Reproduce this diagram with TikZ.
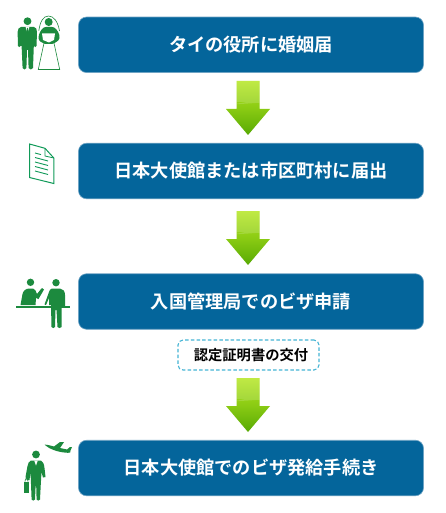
\documentclass[tikz,border=0pt]{standalone}
\usepackage{fontspec}
\setmainfont{Noto Sans CJK JP}[BoldFont={Noto Sans CJK JP Bold}]
\usetikzlibrary{calc}
\definecolor{boxblue}{HTML}{04659B}
\definecolor{boxedge}{HTML}{6FA4C4}
\definecolor{icongreen}{HTML}{1C8A3E}
\definecolor{docgreen}{HTML}{109A58}
\definecolor{dashblue}{HTML}{45B4D4}
\definecolor{arrowtop}{HTML}{B4E620}
\definecolor{arrowbot}{HTML}{58AA04}
\tikzset{
  x=1pt,y=-1pt,
  stepbox/.style={draw=boxedge,line width=0.6pt,fill=boxblue,rounded corners=8pt,minimum width=345pt,minimum height=55.5pt,inner sep=0pt,text=white,font=\fontsize{18.2}{20}\selectfont\bfseries},
  notebox/.style={draw=dashblue,line width=1.1pt,dash pattern=on 3.5pt off 2.2pt,rounded corners=5pt,fill=white,minimum width=141pt,minimum height=30pt,inner sep=0pt,text=black,font=\fontsize{14.3}{16}\selectfont\bfseries},
  ico/.style={fill=icongreen,draw=none},
  icoline/.style={draw=icongreen,fill=none},
}
\newcommand{\blockarrow}[2]{%
  \begin{scope}[shift={(#1,#2)}]
    \path[top color=arrowtop,bottom color=arrowbot,middle color=arrowbot!45!arrowtop]
      (-11.5,0) -- (11.5,0) -- (11.5,28) -- (22,28) -- (0,54) -- (-22,28) -- (-11.5,28) -- cycle;
    \begin{scope}
      \clip (-11.5,0) -- (11.5,0) -- (11.5,28) -- (22,28) -- (0,54) -- (-22,28) -- (-11.5,28) -- cycle;
      \fill[white,opacity=.16] (-23,0) rectangle (23,21) -- (23,13) .. controls (10,20) and (-5,22) .. (-23,24) -- cycle;
    \end{scope}
  \end{scope}}
\begin{document}
\begin{tikzpicture}
\useasboundingbox (0,0) rectangle (446,513);
\fill[white] (0,0) rectangle (446,513);

\node[stepbox] (s1) at (251,44.8) {タイの役所に婚姻届};
\node[stepbox] (s2) at (251,171) {日本大使館または市区町村に届出};
\node[stepbox] (s3) at (251,301.5) {入国管理局でのビザ申請};
\node[stepbox] (s4) at (251,468) {日本大使館でのビザ発給手続き};
\node[notebox] (n) at (248.5,355) {\hspace{5pt}認定証明書の交付};

\blockarrow{248}{81}
\blockarrow{248}{211}
\blockarrow{248}{378}

% groom
\fill[ico] (27.5,21.2) circle (3.9);
\fill[ico] (21,27) -- (34,27) .. controls (36,27.5) and (37,29) .. (37,32) -- (36.5,46) .. controls (36,47.5) and (34.5,47.5) .. (34.2,46) -- (33.8,46) -- (33,68) .. controls (32.5,70) and (29,70) .. (28.6,68) -- (28,50) -- (27,50) -- (26.4,68) .. controls (26,70) and (23,70) .. (22.6,68) -- (21.6,46) -- (20.6,46) .. controls (20,47.5) and (18.2,47.5) .. (18,46) -- (17.6,32) .. controls (17.6,29) and (19,27.5) .. (21,27) -- cycle;
\fill[white] (25.6,27) -- (29.4,27) -- (27.5,33) -- cycle;
\fill[ico] (27,28) -- (28,28) -- (28.3,33) -- (27.5,35) -- (26.7,33) -- cycle;
% bride
\draw[icoline,line width=0.6pt] (38.8,31) .. controls (40,22) and (43,16) .. (48.5,16) .. controls (54,16) and (58,22) .. (59.5,31);
\fill[ico] (48.7,22) circle (4);
\draw[icoline,line width=0.6pt,fill=white] (44,43) -- (38.3,69.5) -- (59.7,69.5) -- (54,43);
\fill[ico] (44,27.5) .. controls (46,26.5) and (52,26.5) .. (54,27.5) .. controls (57,29) and (60,34) .. (59.5,38) .. controls (59,41) and (55,43) .. (52,44) -- (45,44) .. controls (42,43) and (38.5,41) .. (38.5,38) .. controls (38.5,34) and (41,29) .. (44,27.5) -- cycle;
\fill[white] (42,33.5) -- (55,33.5) -- (54,40) -- (49,42.5) -- (43,40) -- cycle;

% document
\draw[docgreen,line width=1pt,line join=miter,fill=white] (29.5,144) -- (45,148.3) -- (53.8,158) -- (53.8,183.5) -- (29.5,177.5) -- cycle;
\draw[docgreen,line width=0.8pt] (45,148.3) -- (45,156) -- (53.8,158);
\draw[docgreen,line width=0.9pt] (35,153) -- (41,154.6) (35,157.5) -- (48,161) (35,162) -- (48,165.5) (35,166.5) -- (48,170) (35,171) -- (48,174.5);

% counter people
\fill[ico] (30.5,282.3) circle (3.7);
\fill[ico] (20.5,305) -- (22.5,294) .. controls (23,291) and (26,288.5) .. (29,288.5) -- (33,288.5) .. controls (35,289) and (36,291) .. (37,294) -- (41,289) -- (42,288) -- (44,289.5) -- (38.5,299) -- (36,298) -- (35.5,305) -- cycle;
\fill[ico] (56,282.7) circle (3.7);
\fill[ico] (52,288.5) -- (60,288.5) .. controls (63,289) and (65,291) .. (65,295) -- (65,307) -- (61.5,307) -- (61.5,327) .. controls (61,328.5) and (58,328.5) .. (57.5,327) -- (56.5,310) -- (55.5,310) -- (55,327) .. controls (54.5,328.5) and (52,328.5) .. (51.5,327) -- (51,305) -- (49,305) -- (49,298) -- (46,305) -- (44.5,304.5) -- (49,292) .. controls (49.5,290) and (50.5,289) .. (52,288.5) -- cycle;
\fill[ico] (16,306) rectangle (70,308.3);

% traveller
\fill[ico] (36,454.5) circle (3.9);
\fill[ico] (31,460.5) -- (41,460.5) .. controls (43,461.5) and (44,464) .. (44.5,468) -- (45.5,477) -- (43,477.5) -- (41.5,472) -- (40.8,484) -- (40,499.5) .. controls (39.5,501) and (37,501) .. (36.6,499.5) -- (36.2,486) -- (35.6,486) -- (35,499.5) .. controls (34.5,501) and (32,501) .. (31.6,499.5) -- (31,484) -- (30.5,472) -- (29.5,480) -- (27,480) -- (25.5,477) -- (27.5,466) .. controls (28,463) and (29,461.5) .. (31,460.5) -- cycle;
\fill[white] (34.2,460.5) -- (37.8,460.5) -- (36,465.5) -- cycle;
\fill[ico] (24,481.5) rectangle (29.3,493);
\draw[icoline,line width=0.6pt] (25,481.5) -- (25.5,479) -- (27.5,479) -- (28,481.5);
% plane
\fill[ico] (44.5,444.5) .. controls (47,444.5) and (50,445.5) .. (54,446.5) -- (60,442) -- (64,442) -- (60,448) -- (67,449.5) -- (70,447) -- (72,447) -- (70.5,450.5) .. controls (71,452.5) and (70,453) .. (68,452.8) .. controls (60,452.5) and (50,450) .. (44.5,444.5) -- cycle;
\end{tikzpicture}
\end{document}
